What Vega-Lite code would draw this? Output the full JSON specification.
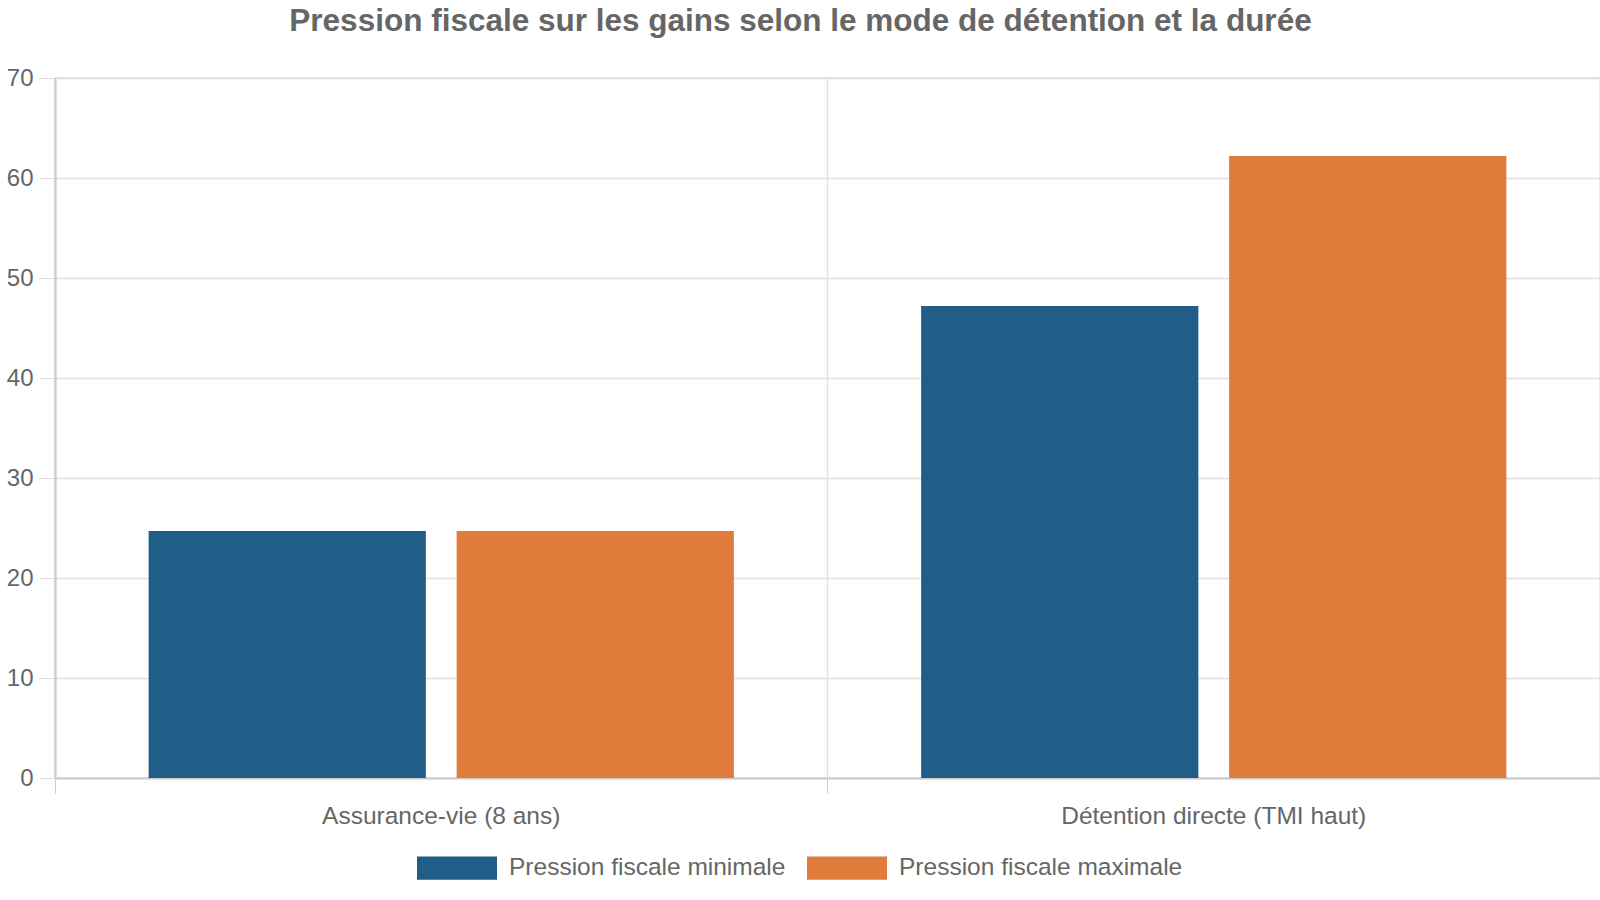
{
  "$schema": "https://vega.github.io/schema/vega-lite/v6.json",
  "autosize": "none",
  "width": 1545,
  "height": 700,
  "padding": {"left": 55, "top": 78, "right": 0, "bottom": 122},
  "background": "#ffffff",
  "title": {
    "text": "Pression fiscale sur les gains selon le mode de détention et la durée",
    "font": "Liberation Sans",
    "fontSize": 31.5,
    "fontWeight": "bold",
    "color": "#666666",
    "anchor": "middle",
    "frame": "group",
    "dx": -27,
    "offset": 29
  },
  "data": {
    "values": [
      {"mode": "Assurance-vie (8 ans)", "serie": "Pression fiscale minimale", "valeur": 24.7},
      {"mode": "Assurance-vie (8 ans)", "serie": "Pression fiscale maximale", "valeur": 24.7},
      {"mode": "Détention directe (TMI haut)", "serie": "Pression fiscale minimale", "valeur": 47.2},
      {"mode": "Détention directe (TMI haut)", "serie": "Pression fiscale maximale", "valeur": 62.2}
    ]
  },
  "mark": {"type": "bar"},
  "encoding": {
    "x": {
      "field": "mode",
      "type": "nominal",
      "sort": null,
      "scale": {"paddingInner": 0, "paddingOuter": 0},
      "axis": {
        "title": null,
        "labelAngle": 0,
        "labelFont": "Liberation Sans",
        "labelFontSize": 24.5,
        "labelColor": "#666666",
        "labelPadding": 11,
        "labelLimit": 600,
        "tickSize": 15,
        "tickColor": "#cccccc",
        "domainColor": "#cccccc",
        "domainWidth": 2,
        "bandPosition": 0,
        "grid": true,
        "gridColor": "#e0e0e0",
        "gridWidth": 1.5
      }
    },
    "xOffset": {
      "field": "serie",
      "type": "nominal",
      "sort": ["Pression fiscale minimale", "Pression fiscale maximale"],
      "scale": {"paddingInner": 0.1, "paddingOuter": 0.304}
    },
    "y": {
      "field": "valeur",
      "type": "quantitative",
      "scale": {"domain": [0, 70], "nice": false},
      "axis": {
        "title": null,
        "values": [0, 10, 20, 30, 40, 50, 60, 70],
        "labelFont": "Liberation Sans",
        "labelFontSize": 24,
        "labelColor": "#666666",
        "labelPadding": 6,
        "tickSize": 16,
        "tickColor": "#dddddd",
        "domainColor": "#cccccc",
        "domainWidth": 2,
        "gridColor": "#e0e0e0",
        "gridWidth": 1.5
      }
    },
    "color": {
      "field": "serie",
      "type": "nominal",
      "sort": ["Pression fiscale minimale", "Pression fiscale maximale"],
      "scale": {"range": ["#205d87", "#e07b3b"]},
      "legend": {
        "title": null,
        "orient": "none",
        "direction": "horizontal",
        "legendX": 362,
        "legendY": 750,
        "padding": 0,
        "symbolType": "M-1,-0.29H1V0.29H-1Z",
        "symbolSize": 6400,
        "symbolStrokeWidth": 0,
        "symbolOpacity": 1,
        "labelFont": "Liberation Sans",
        "labelFontSize": 24.5,
        "labelColor": "#666666",
        "labelOffset": 12,
        "labelLimit": 400,
        "columnPadding": 21
      }
    }
  },
  "config": {
    "view": {"stroke": "#e0e0e0", "strokeWidth": 1.5}
  }
}
